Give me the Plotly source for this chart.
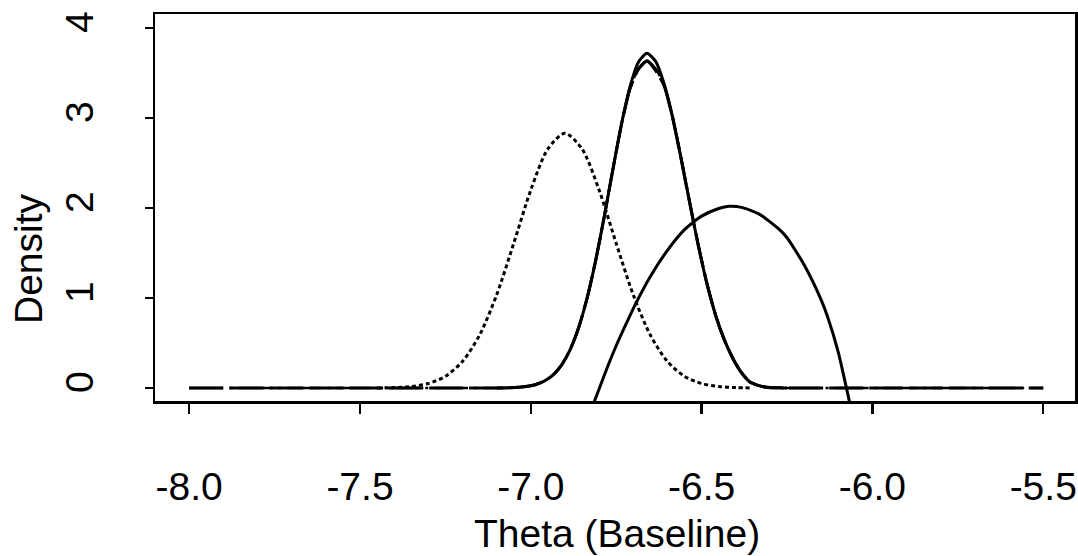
import plotly.graph_objects as go

# ---- data ----
x_ticks = [-8.0, -7.5, -7.0, -6.5, -6.0, -5.5]
x_tick_labels = ["-8.0", "-7.5", "-7.0", "-6.5", "-6.0", "-5.5"]
y_ticks = [0, 1, 2, 3, 4]
y_tick_labels = ["0", "1", "2", "3", "4"]

# dotted density
dotted_x = [-7.45, -7.40, -7.35, -7.30, -7.25, -7.20, -7.15, -7.10, -7.05, -7.00, -6.95, -6.90,
            -6.85, -6.80, -6.75, -6.70, -6.65, -6.60, -6.55, -6.50, -6.45, -6.40, -6.35]
dotted_y = [0.001, 0.005, 0.017, 0.051, 0.130, 0.295, 0.588, 1.035, 1.607, 2.20, 2.657, 2.83,
            2.657, 2.20, 1.607, 1.035, 0.588, 0.295, 0.130, 0.051, 0.017, 0.005, 0.001]

# narrow solid density
solid_x = [-7.10, -7.06, -7.035, -7.01, -6.985, -6.96, -6.935, -6.91, -6.885, -6.86, -6.835, -6.81,
           -6.785, -6.76, -6.735, -6.71, -6.685, -6.66, -6.635, -6.61, -6.585, -6.56, -6.535, -6.51,
           -6.485, -6.46, -6.435, -6.41, -6.385, -6.36, -6.335, -6.31, -6.285, -6.25]
solid_y = [0.001, 0.004, 0.010, 0.020, 0.040, 0.078, 0.145, 0.255, 0.425, 0.670, 1.001, 1.418,
           1.904, 2.423, 2.924, 3.342, 3.62, 3.72, 3.633, 3.384, 3.008, 2.549, 2.061, 1.589,
           1.169, 0.820, 0.549, 0.34, 0.18, 0.07, 0.03, 0.01, 0.004, 0.001]

# long-dashed density (full range)
dashed_x = [-8.0, -7.5, -7.2, -7.10, -7.06, -7.035, -7.01, -6.985, -6.96, -6.935, -6.91, -6.885, -6.86,
            -6.835, -6.81, -6.785, -6.76, -6.735, -6.71, -6.685, -6.66, -6.635, -6.61, -6.585, -6.56,
            -6.535, -6.51, -6.485, -6.46, -6.435, -6.41, -6.385, -6.36, -6.335, -6.31, -6.285, -6.25,
            -6.0, -5.5]
dashed_y = [0.0, 0.0, 0.0, 0.001, 0.004, 0.010, 0.020, 0.040, 0.078, 0.145, 0.255, 0.425, 0.670,
            1.001, 1.418, 1.904, 2.423, 2.92, 3.32, 3.54, 3.63, 3.53, 3.36, 3.008, 2.549,
            2.061, 1.589, 1.169, 0.820, 0.549, 0.34, 0.18, 0.07, 0.03, 0.01, 0.004, 0.001,
            0.0, 0.0]

# dot-dashed density (full range)
dotdash_x = dashed_x
dotdash_y = [0.0, 0.0, 0.0, 0.001, 0.004, 0.010, 0.020, 0.040, 0.078, 0.145, 0.255, 0.425, 0.670,
             1.001, 1.418, 1.904, 2.423, 2.92, 3.32, 3.55, 3.64, 3.55, 3.37, 3.02, 2.56,
             2.07, 1.60, 1.18, 0.83, 0.555, 0.345, 0.185, 0.075, 0.03, 0.01, 0.004, 0.001,
             0.0, 0.0]

# wide solid curve
wide_x = [-6.83, -6.812, -6.80, -6.775, -6.75, -6.72, -6.694, -6.65, -6.60, -6.55, -6.50, -6.45,
          -6.42, -6.38, -6.33, -6.275, -6.25, -6.20, -6.15, -6.132, -6.10, -6.069, -6.05]
wide_y = [-0.30, -0.13, -0.01, 0.24, 0.47, 0.72, 0.93, 1.24, 1.53, 1.76, 1.91, 1.995,
          2.02, 2.005, 1.93, 1.77, 1.67, 1.37, 0.98, 0.80, 0.40, -0.12, -0.45]

FONT = "Liberation Sans, Arial, Helvetica, sans-serif"
FS = 39

W, H = 1078, 556
# plot box in page pixels: left 155, right 1075, top 14, bottom 401
L, R, T, B = 155, 1078 - 1075, 14, 556 - 401

def px_x(page_x):
    return (page_x - L) / (W - L - R)

def px_y(page_y):
    return (H - B - page_y) / (H - T - B)

fig = go.Figure()
fig.add_trace(go.Scatter(x=dotted_x, y=dotted_y, mode="lines",
                         line=dict(color="black", width=3, dash="4px,3px", shape="spline", smoothing=0.8)))
fig.add_trace(go.Scatter(x=dashed_x, y=dashed_y, mode="lines",
                         line=dict(color="black", width=3, dash="34px,6px", shape="spline", smoothing=0.6)))
fig.add_trace(go.Scatter(x=dotdash_x, y=dotdash_y, mode="lines",
                         line=dict(color="black", width=2.5, dash="34px,6px,3px,6px", shape="spline", smoothing=0.6)))
fig.add_trace(go.Scatter(x=solid_x, y=solid_y, mode="lines",
                         line=dict(color="black", width=3, shape="spline", smoothing=0.6)))
fig.add_trace(go.Scatter(x=wide_x, y=wide_y, mode="lines",
                         line=dict(color="black", width=3, shape="spline", smoothing=0.6)))

fig.update_layout(
    width=W, height=H,
    margin=dict(l=L, r=R, t=T, b=B, autoexpand=False),
    paper_bgcolor="white", plot_bgcolor="white",
    showlegend=False,
    hovermode=False,
    font=dict(family=FONT, color="black", size=FS),
    xaxis=dict(range=[-8.100, -5.407], tickmode="array", tickvals=x_ticks, ticktext=x_tick_labels,
               showgrid=False, zeroline=False, showline=True, mirror=True, linecolor="black",
               linewidth=2.5, ticks="outside", ticklen=10, tickwidth=2.5, tickcolor="black",
               tickfont=dict(family=FONT, size=FS, color="black"), ticklabelstandoff=40,
               automargin=False),
    yaxis=dict(range=[-0.144, 4.156], tickmode="array", tickvals=y_ticks, ticktext=y_tick_labels,
               showgrid=False, zeroline=False, showline=True, mirror=True, linecolor="black",
               linewidth=2.5, ticks="outside", ticklen=8, tickwidth=2.5, tickcolor="black",
               tickangle=-90, tickfont=dict(family=FONT, size=FS, color="black"),
               ticklabelstandoff=36, automargin=False),
    annotations=[
        dict(text="Theta (Baseline)", xref="paper", yref="paper",
             x=px_x(617), y=px_y(533),
             showarrow=False, xanchor="center", yanchor="middle",
             font=dict(family=FONT, size=FS, color="black")),
        dict(text="Density", xref="paper", yref="paper",
             x=px_x(28), y=px_y(258),
             showarrow=False, xanchor="center", yanchor="middle", textangle=-90,
             font=dict(family=FONT, size=FS, color="black")),
    ],
)

fig.write_html(
    "out.html",
    config={"displayModeBar": False, "staticPlot": True},
    post_script="document.body.style.margin='0';document.body.style.overflow='hidden';",
)
